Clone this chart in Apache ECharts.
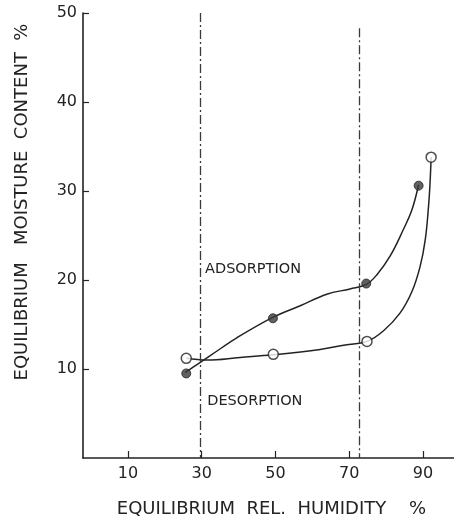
<!DOCTYPE html>
<html>
<head>
<meta charset="utf-8">
<script src="https://cdn.jsdelivr.net/npm/echarts@6/dist/echarts.min.js"></script>
<style>
html,body{margin:0;padding:0;background:#fff;}
#chart{width:454px;height:523px;}
</style>
</head>
<body>
<div id="chart"></div>
<script>
// Measured points (x: equilibrium relative humidity %, y: equilibrium moisture content %)
var adsorptionX = [25.8, 49.3, 74.6, 88.8];
var adsorptionY = [9.5, 15.7, 19.6, 30.6];
var desorptionX = [25.8, 49.4, 74.8, 92.2];
var desorptionY = [11.2, 11.65, 13.1, 33.8];

// Hand-drawn curves
var adsCurveX = [25.5, 28.7, 32.3, 39.5, 49.0, 56.7, 63.9, 70.2, 74.6, 77.5, 81.1, 84.7, 87.0, 88.8];
var adsCurveY = [9.6, 10.5, 11.5, 13.5, 15.75, 17.1, 18.4, 19.0, 19.5, 20.6, 22.7, 25.7, 27.9, 30.7];
var desCurveX = [25.8, 31.4, 40.4, 49.3, 62.1, 68.9, 74.8, 79.3, 83.8, 87.0, 89.2, 90.6, 91.5, 91.9, 92.2];
var desCurveY = [11.2, 11.0, 11.3, 11.6, 12.2, 12.7, 13.1, 14.3, 16.3, 18.7, 21.5, 24.5, 28.3, 30.9, 33.8];

// Vertical dashed reference lines [x, top y]
var refLineX = [29.6, 72.7];
var refLineTop = [50, 48.3];

// Annotations
var noteText = ['ADSORPTION', 'DESORPTION'];
var noteX = [30.9, 31.5];
var noteY = [21.2, 6.4];

var xTicks = [10, 30, 50, 70, 90];
var yTicks = [10, 20, 30, 40, 50];

function zip(a, b) { return a.map(function (v, i) { return [v, b[i]]; }); }

var ink = '#232323';
var fontFam = '"DejaVu Sans", sans-serif';

var chart = echarts.init(document.getElementById('chart'));
chart.setOption({
  backgroundColor: '#ffffff',
  animation: false,
  grid: { left: 83, right: 0, top: 13, bottom: 64, containLabel: false },
  xAxis: {
    type: 'value',
    min: -2.2,
    max: 98.4,
    name: 'EQUILIBRIUM  REL.  HUMIDITY    %',
    nameLocation: 'middle',
    nameGap: 42,
    nameTextStyle: { color: ink, fontSize: 18, fontFamily: fontFam, padding: [0, 0, 0, 6] },
    axisLine: { show: true, onZero: false, lineStyle: { color: ink, width: 1.6 } },
    axisTick: { show: true, inside: true, length: 7, customValues: xTicks, lineStyle: { color: ink, width: 1.2 } },
    axisLabel: { customValues: xTicks, color: ink, fontSize: 16, fontFamily: fontFam, margin: 8 },
    splitLine: { show: false }
  },
  yAxis: {
    type: 'value',
    min: 0,
    max: 50,
    interval: 10,
    name: 'EQUILIBRIUM   MOISTURE  CONTENT  %',
    nameLocation: 'middle',
    nameRotate: 90,
    nameGap: 52,
    nameTextStyle: { color: ink, fontSize: 18, fontFamily: fontFam, padding: [0, 0, 0, 67] },
    axisLine: { show: true, onZero: false, lineStyle: { color: ink, width: 1.6 } },
    axisTick: { show: true, inside: true, length: 6, customValues: yTicks, lineStyle: { color: ink, width: 1.2 } },
    axisLabel: { customValues: yTicks, color: ink, fontSize: 16, fontFamily: fontFam, margin: 6 },
    splitLine: { show: false }
  },
  series: [
    {
      name: 'Adsorption curve',
      type: 'line',
      data: zip(adsCurveX, adsCurveY),
      smooth: 0.4,
      showSymbol: false,
      lineStyle: { color: ink, width: 1.5 },
      z: 2,
      markLine: {
        silent: true,
        symbol: 'none',
        label: { show: false },
        lineStyle: { color: '#3a3a3a', width: 1.3, type: [9, 3, 2, 3] },
        data: refLineX.map(function (x, i) { return [{ coord: [x, refLineTop[i]] }, { coord: [x, 0] }]; })
      },
      markPoint: {
        silent: true,
        symbol: 'circle',
        symbolSize: 0,
        label: {
          show: true,
          position: 'right',
          distance: 0,
          color: ink,
          fontSize: 14.5,
          fontFamily: fontFam,
          formatter: function (p) { return p.name; }
        },
        data: noteText.map(function (t, i) { return { name: t, coord: [noteX[i], noteY[i]] }; })
      }
    },
    {
      name: 'Desorption curve',
      type: 'line',
      data: zip(desCurveX, desCurveY),
      smooth: 0.4,
      showSymbol: false,
      lineStyle: { color: ink, width: 1.5 },
      z: 2
    },
    {
      name: 'Adsorption',
      type: 'scatter',
      data: zip(adsorptionX, adsorptionY),
      symbol: 'circle',
      symbolSize: 9,
      itemStyle: { color: '#3a3a3a', borderColor: ink, borderWidth: 1 },
      z: 3
    },
    {
      name: 'Desorption',
      type: 'scatter',
      data: zip(desorptionX, desorptionY),
      symbol: 'circle',
      symbolSize: 10,
      itemStyle: { color: '#ffffff', borderColor: ink, borderWidth: 1.5 },
      z: 3
    }
  ]
});
</script>
</body>
</html>
